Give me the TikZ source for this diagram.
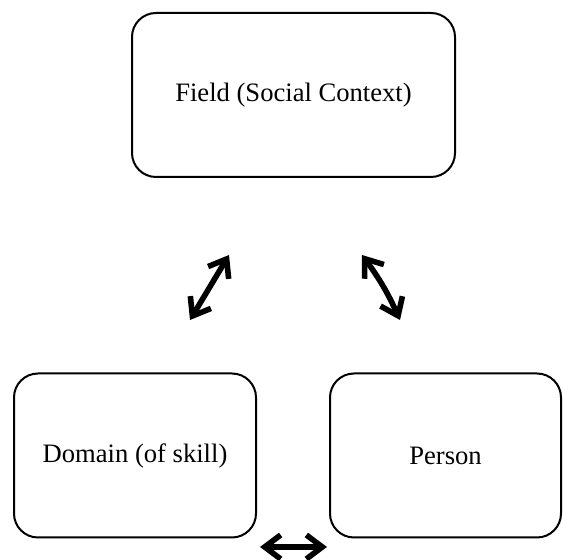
\documentclass[tikz,border=0pt]{standalone}
\usepackage{fontspec}
\setmainfont{Liberation Serif}
\usetikzlibrary{shapes, arrows.meta}
\tikzstyle{sysbox} = [rectangle, rounded corners=12pt, draw=black, line width=1pt, text centered, minimum height=82pt, font=\fontsize{13.3}{16}\selectfont]
\tikzstyle{arrow} = [line width=2.8pt, {Straight Barb[length=8pt,width=12pt]}-{Straight Barb[length=8pt,width=12pt]}]

\begin{document}
\begin{tikzpicture}[x=0.5pt,y=-0.5pt]
\useasboundingbox (0,0) rectangle (563,560);
\node[sysbox, minimum width=161.5pt] (field) at (293.5,95) {Field (Social Context)};
\node[sysbox, minimum width=121pt] (domain) at (135,455.5) {Domain (of skill)};
\node[sysbox, minimum width=115.5pt] (person) at (445.5,455.5) {Person};
% free ends of the connectors
\coordinate (fd1) at (190,320);
\coordinate (fd2) at (229,255);
\coordinate (fp1) at (362,255);
\coordinate (fp2) at (400,320);
\coordinate (dp1) at (260,547);
\coordinate (dp2) at (327,547);
\draw[arrow] (fd1) -- (fd2);
\draw[arrow] (fp1) to[bend left=6] (fp2);
\draw[arrow] (dp1) -- (dp2);
\end{tikzpicture}
\end{document}
